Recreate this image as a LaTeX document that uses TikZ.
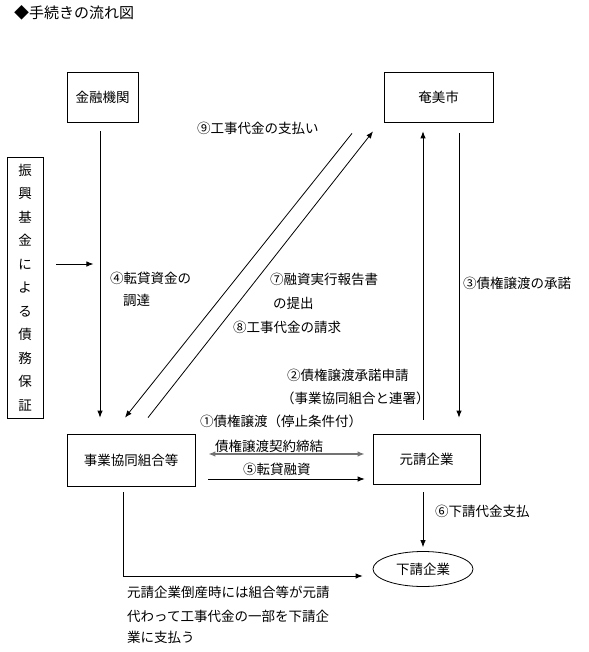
\documentclass[tikz,border=0pt]{standalone}
\usepackage{fontspec}
\newfontfamily\jp{Noto Sans CJK JP}
\usetikzlibrary{arrows.meta,calc,shapes.geometric}
\begin{document}
\begin{tikzpicture}[x=1pt,y=-1pt,
  every node/.style={font=\jp\fontsize{13.5}{16}\selectfont, inner sep=0pt},
  box/.style={draw, line width=0.8pt},
  lbl/.style={anchor=west},
  ln/.style={line width=0.8pt},
  arr/.style={ln, -{Latex[length=7pt,width=5.5pt]}},
  dbl/.style={line width=1.3pt, draw=black!55, {Latex[length=7pt,width=5.5pt]}-{Latex[length=7pt,width=5.5pt]}}]
\useasboundingbox (0,0) rectangle (588,652);
% title
\node[lbl, font=\jp\fontsize{15}{18}\selectfont] (title) at (14,13) {◆手続きの流れ図};
% boxes
\node[box, minimum width=71, minimum height=50] (kin) at (102.5,97) {金融機関};
\node[box, minimum width=109, minimum height=50] (ami) at (438.5,97) {奄美市};
\node[box, minimum width=36, minimum height=261, align=center,
  font=\jp\fontsize{13.5}{23.5}\selectfont] (fund) at (25,287.5)
  {振\\興\\基\\金\\に\\よ\\る\\債\\務\\保\\証};
\node[box, minimum width=128, minimum height=52] (kumi) at (131,460) {事業協同組合等};
\node[box, minimum width=107, minimum height=50] (moto) at (426.5,459) {元請企業};
\node[box, ellipse, minimum width=100, minimum height=35] (shita) at (423,569) {下請企業};
% connectors
\draw[arr, shorten <=9pt, shorten >=16pt] ([xshift=-2.5pt]kin.south) -- ([xshift=-2.5pt]kin.south |- kumi.north);
\draw[arr, shorten <=13pt] ([yshift=23.5pt]fund.east) -- ++(50,0);
\draw[arr] ($(ami.south)+(-86.5,11)$) -- ($(kumi.north)+(-6,-16)$);
\draw[arr] ($(kumi.north)+(17,-16)$) -- ($(ami.south)+(-65.5,9)$);
\draw[arr, shorten <=14pt, shorten >=9pt] ([xshift=-3.5pt]moto.north) -- ([xshift=-3.5pt]moto.north |- ami.south);
\draw[arr, shorten <=11pt, shorten >=16pt] ([xshift=20.5pt]ami.south) -- ([xshift=20.5pt]ami.south |- moto.north);
\draw[dbl, shorten <=13pt, shorten >=8pt] ([yshift=6pt]kumi.east) -- ([yshift=6pt]kumi.east -| moto.west);
\draw[arr, shorten <=13pt, shorten >=8pt] ([yshift=-19pt]kumi.east) -- ([yshift=-19pt]kumi.east -| moto.west);
\draw[arr, shorten <=8pt, shorten >=4pt] (shita.north |- moto.south) -- (shita.north);
\draw[arr, shorten <=6pt] ([xshift=-8pt]kumi.south) |- ([xshift=-10pt,yshift=-7pt]shita.west);
% labels
\node[lbl] (l9) at (197,128) {⑨工事代金の支払い};
\node[lbl] (l4a) at (110,278) {④転貸資金の};
\node[lbl] (l4b) at (123,300) {調達};
\node[lbl] (l3) at (463,283) {③債権譲渡の承諾};
\node[lbl] (l7a) at (270,279) {⑦融資実行報告書};
\node[lbl] (l7b) at (273,303) {の提出};
\node[lbl] (l8) at (233,327) {⑧工事代金の請求};
\node[lbl] (l2a) at (287,375) {②債権譲渡承諾申請};
\node[lbl] (l2b) at (281,398) {（事業協同組合と連署）};
\node[lbl] (l1) at (200,421) {①債権譲渡（停止条件付）};
\node[lbl] (l1b) at (215,446) {債権譲渡契約締結};
\node[lbl] (l5) at (243,469) {⑤転貸融資};
\node[lbl] (l6) at (435,511) {⑥下請代金支払};
\node[lbl] (n1) at (127,592) {元請企業倒産時には組合等が元請};
\node[lbl] (n2) at (127,616) {代わって工事代金の一部を下請企};
\node[lbl] (n3) at (127,637) {業に支払う};
\end{tikzpicture}
\end{document}
